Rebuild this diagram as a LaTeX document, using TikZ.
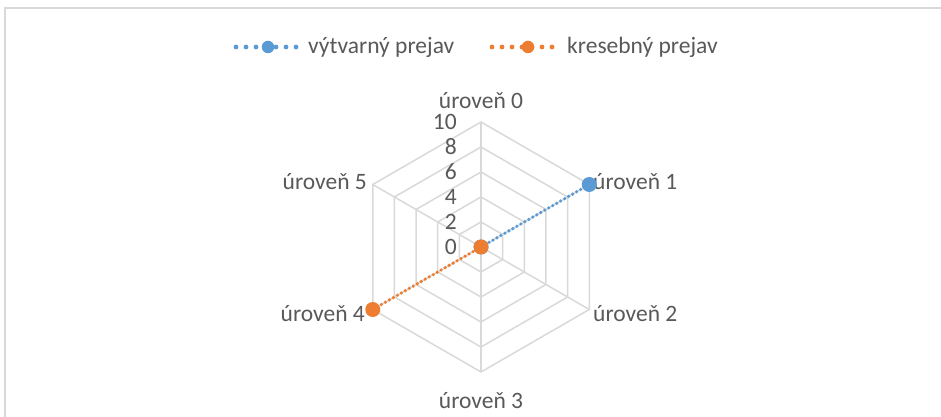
\documentclass[tikz,border=0pt]{standalone}
\usepackage{fontspec}
\setmainfont{Carlito}
\definecolor{serA}{HTML}{5B9BD5}
\definecolor{serB}{HTML}{ED7D31}
\definecolor{gridc}{HTML}{D9D9D9}
\definecolor{txtc}{HTML}{595959}
\begin{document}
\begin{tikzpicture}[x=1pt,y=1pt,
  lbl/.style={font=\fontsize{23.5}{28}\selectfont, text=txtc, inner sep=0pt},
  gridline/.style={draw=gridc, line width=1.5pt},
  serline/.style={line width=3.6pt, line cap=round, dash pattern=on 0pt off 4.6pt},
  legline/.style={line width=4.8pt, line cap=round, dash pattern=on 0pt off 10pt},
  mk/.style={circle, inner sep=0pt, minimum size=15pt},
  legmk/.style={circle, inner sep=0pt, minimum size=12.5pt}]
\useasboundingbox (0,0) rectangle (941,417);
\fill[white] (0,0) rectangle (941,417);
\draw[gridc, line width=1.5pt] (5,-5) -- (5,409) -- (945,409);
% legend
\coordinate (la1) at (236,370);
\coordinate (la2) at (298,370);
\draw[serA, legline] (la1) -- (la2);
\node[legmk, fill=serA] (lam) at (268,370) {};
\node[lbl, anchor=west] (lat) at (308,370) {výtvarný prejav};
\coordinate (lb1) at (492,370);
\coordinate (lb2) at (556,370);
\draw[serB, legline] (lb1) -- (lb2);
\node[legmk, fill=serB] (lbm) at (528,370) {};
\node[lbl, anchor=west] (lbt) at (567,370) {kresebný prejav};
% radar
\begin{scope}[shift={(481,170)}]
\coordinate (c) at (0,0);
\foreach \r in {25,50,75,100,125}{
  \draw[gridline] (90:\r) -- (30:\r) -- (-30:\r) -- (-90:\r) -- (-150:\r) -- (150:\r) -- cycle;
}
\foreach \k in {0,...,5}{
  \draw[gridline] (c) -- (90-60*\k:125);
  \coordinate (v\k) at (90-60*\k:125);
}
\foreach \v/\r in {0/0,2/25,4/50,6/75,8/100,10/125}{
  \node[lbl, anchor=east] (s\v) at (-24,\r) {\v};
}
\node[lbl, anchor=base] (a0) at (0,138.5) {úroveň 0};
\node[lbl, anchor=base west] (a1) at (112,57) {úroveň 1};
\node[lbl, anchor=base west] (a2) at (112,-75) {úroveň 2};
\node[lbl, anchor=base] (a3) at (0,-161) {úroveň 3};
\node[lbl, anchor=base east] (a4) at (-116,-75) {úroveň 4};
\node[lbl, anchor=base east] (a5) at (-114,57) {úroveň 5};
% series A
\draw[serA, serline] (c) -- (v1);
\node[mk, fill=serA] (pa1) at (v1) {};
\node[mk, fill=serA] (pa0) at (c) {};
% series B
\draw[serB, serline] (c) -- (v4);
\node[mk, fill=serB] (pb4) at (v4) {};
\node[mk, fill=serB] (pb0) at (c) {};
\end{scope}
\end{tikzpicture}
\end{document}
